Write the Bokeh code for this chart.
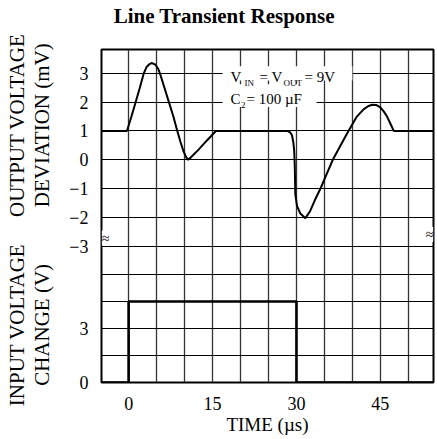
import numpy as np
from bokeh.plotting import figure
from bokeh.models import Range1d, FixedTicker, Grid, Label, BoxAnnotation, LinearAxis
from bokeh.embed import file_html
from bokeh.resources import INLINE

# ---------------- data ----------------
title_text = "Line Transient Response"

# output voltage deviation trace (time in us, deviation in mV)
time_out_us = [-5.0, -0.3, 0.5, 1.25, 2.0, 2.7, 3.2, 3.7, 4.2, 4.8, 5.3, 5.6, 6.4, 7.2,
               8.0, 8.7, 9.3, 9.8, 10.3, 10.65, 11.1, 12.5, 14.0, 15.6, 28.3, 28.9,
               29.2, 29.45, 29.6, 29.7, 29.8, 30.1, 30.7, 31.6, 32.4, 33.3, 34.3, 35.4,
               36.5, 37.9, 39.3, 40.8, 42.0, 42.8, 43.5, 44.3, 45.0, 45.6, 46.2, 46.8,
               47.4, 54.5]
out_dev_mv = [1.0, 1.0, 1.5, 2.0, 2.5, 3.0, 3.22, 3.32, 3.36, 3.3, 3.15, 3.0, 2.5, 2.0,
              1.5, 1.0, 0.6, 0.3, 0.08, 0.0, 0.08, 0.35, 0.67, 1.0, 1.0, 0.95,
              0.85, 0.6, 0.3, -0.2, -1.2, -1.6, -1.87, -2.03, -1.8, -1.4, -1.0, -0.5,
              0.0, 0.5, 1.0, 1.5, 1.75, 1.86, 1.91, 1.9, 1.82, 1.68, 1.5, 1.25,
              1.0, 1.0]

# input voltage change trace (time in us, change in V)
time_in_us = [-5.0, 0.0, 0.0, 30.0, 30.0, 54.5]
in_change_v = [0.0, 0.0, 4.5, 4.5, 0.0, 0.0]

time_ticks = [0, 15, 30, 45]
time_grid = [0, 5, 10, 15, 20, 25, 30, 35, 40, 45, 50]
out_ticks = [-3, -2, -1, 0, 1, 2, 3]
in_ticks = [0, 3]
in_grid = [1.5, 3, 4.5, 6]

out_label = ["OUTPUT VOLTAGE", "DEVIATION (mV)"]
in_label = ["INPUT VOLTAGE", "CHANGE (V)"]
x_label = "TIME (µs)"

# axis ranges
X0, X1 = -4.85, 54.5
Y0, Y1 = -7.74, 3.83     # mV (upper trace)
V0, V1 = 0.0, 18.5       # V  (lower trace)

FONT = "Liberation Serif"

p = figure(width=437, height=439, x_range=Range1d(X0, X1), y_range=Range1d(Y0, Y1),
           title=None, output_backend="svg", toolbar_location=None,
           min_border_left=101, min_border_right=4, min_border_top=48, min_border_bottom=57)
p.extra_y_ranges = {"vin": Range1d(V0, V1)}

p.background_fill_color = "white"
p.border_fill_color = "white"
p.outline_line_color = "black"
p.outline_line_width = 2

xax = p.below[0]
yax = p.left[0]

# grids
p.xgrid.ticker = FixedTicker(ticks=time_grid)
p.xgrid.grid_line_color = "#333333"
p.xgrid.grid_line_width = 1.3
p.ygrid.ticker = FixedTicker(ticks=out_ticks)
p.ygrid.grid_line_color = "black"
p.ygrid.grid_line_width = 1
vgrid = Grid(dimension=1, ticker=FixedTicker(ticks=in_grid), y_range_name="vin",
             grid_line_color="black", grid_line_width=1)
p.add_layout(vgrid)


def to_mv(v):
    """map a value of the input-voltage range onto the shared left axis"""
    return round(Y0 + (v - V0) * (Y1 - Y0) / (V1 - V0), 6)


def plain(ax, size):
    ax.axis_line_color = None
    ax.major_tick_line_color = None
    ax.minor_tick_line_color = None
    ax.major_tick_out = 0
    ax.major_tick_in = 0
    ax.major_label_text_font = FONT
    ax.major_label_text_font_size = size
    ax.major_label_text_color = "black"


# left axis: mV ticks + V ticks
in_tick_pos = [to_mv(v) for v in in_ticks]
yax.ticker = FixedTicker(ticks=out_ticks + in_tick_pos)
yax.major_label_overrides = {pos: str(v) for pos, v in zip(in_tick_pos, in_ticks)}
plain(yax, "18px")
yax.major_label_standoff = 13

# x axis
plain(xax, "18px")
xax.ticker = FixedTicker(ticks=time_ticks)
xax.major_label_standoff = 14
xax.axis_label = x_label
xax.axis_label_text_font = FONT
xax.axis_label_text_font_size = "19px"
xax.axis_label_text_font_style = "normal"
xax.axis_label_text_color = "black"
xax.axis_label_standoff = 1

# chart title, carried by an axis above the frame (placed left of centre as in the original)
title_pos = 17.1
tax = LinearAxis(ticker=FixedTicker(ticks=[title_pos]),
                 major_label_overrides={title_pos: title_text},
                 major_label_standoff=22)
plain(tax, "21px")
tax.major_label_text_font_style = "bold"
p.add_layout(tax, "above")

# rotated two-line titles of the two traces, carried by two extra left axes
upper_mid = 1.2
lower_mid = to_mv(3.2)
for line_no, standoff in [(1, 12), (0, -2)]:
    ax = LinearAxis(ticker=FixedTicker(ticks=[upper_mid, lower_mid]),
                    major_label_overrides={upper_mid: out_label[line_no],
                                           lower_mid: in_label[line_no]},
                    major_label_orientation="parallel",
                    major_label_standoff=standoff)
    plain(ax, "21px")
    p.add_layout(ax, "left")

# traces
p.line(time_out_us, out_dev_mv, line_color="black", line_width=2)
p.line(time_in_us, in_change_v, line_color="black", line_width=2.6, y_range_name="vin")

# axis break marks
for bx, by, xo in [(X0, -2.72, 4), (X1, -2.6, -4)]:
    p.add_layout(Label(x=bx, y=by, x_offset=xo, text="≈", text_align="center",
                       text_baseline="middle", text_font=FONT, text_font_size="14px",
                       text_color="black", background_fill_color="white"))

# annotation boxes + text
p.add_layout(BoxAnnotation(left=16.8, right=40.0, top=3.25, bottom=2.75,
                           fill_color="white", fill_alpha=1.0, line_color=None))
p.add_layout(BoxAnnotation(left=16.8, right=33.6, top=2.62, bottom=1.83,
                           fill_color="white", fill_alpha=1.0, line_color=None))
pieces = [
    ("V", -10, -4, "15px"), ("IN", 4, -9.5, "9px"), ("= V", 19, -4, "15px"),
    ("OUT", 43, -9.5, "9px"), ("= 9V", 64, -4, "15px"),
    ("C", -10, -26, "15px"), ("2", 0.5, -31.5, "9px"), ("= 100 µF", 6, -26, "15px"),
]
for txt, xo, yo, fs in pieces:
    p.add_layout(Label(x=20, y=3, x_offset=xo, y_offset=yo, text=txt,
                       text_align="left", text_baseline="alphabetic", text_font=FONT,
                       text_font_size=fs, text_color="black"))

open("out.html", "w").write(file_html(p, INLINE))
